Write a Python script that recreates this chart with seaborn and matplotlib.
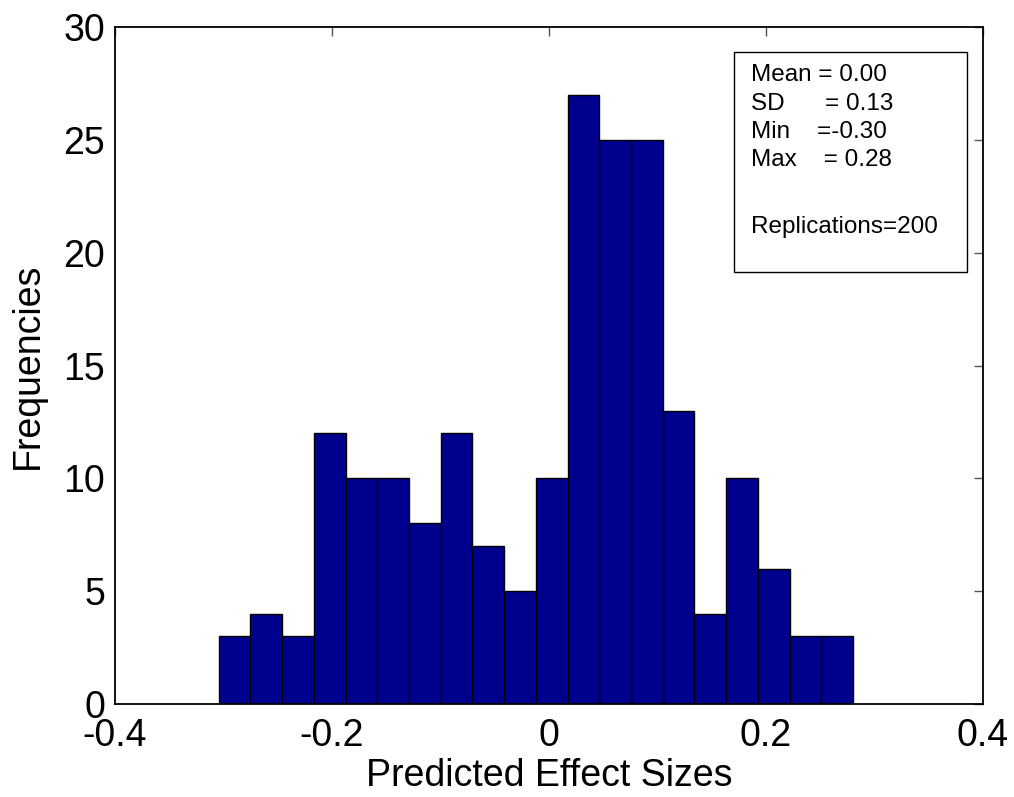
import numpy as np
import pandas as pd
import matplotlib
matplotlib.use("Agg")
import matplotlib.pyplot as plt
from matplotlib.patches import Rectangle
from matplotlib.ticker import FuncFormatter
import seaborn as sns

# histogram of predicted effect sizes (200 replications, 20 bins)
counts = [3, 4, 3, 12, 10, 10, 8, 12, 7, 5, 10, 27, 25, 25, 13, 4, 10, 6, 3, 3]
x_min, x_max = -0.3045, 0.2803
x_ticks = [-0.4, -0.2, 0, 0.2, 0.4]
y_ticks = [0, 5, 10, 15, 20, 25, 30]
stats_lines = ["Mean = 0.00", "SD      = 0.13", "Min    =-0.30", "Max    = 0.28", "Replications=200"]

edges = np.linspace(x_min, x_max, len(counts) + 1)
centers = (edges[:-1] + edges[1:]) / 2
df = pd.DataFrame({"effect": centers, "n": counts})

sns.set_style("white")
plt.rcParams['font.family'] = ['Liberation Sans', 'DejaVu Sans']
plt.rcParams['text.color'] = 'black'
plt.rcParams['axes.labelcolor'] = 'black'
plt.rcParams['xtick.color'] = 'black'
plt.rcParams['ytick.color'] = 'black'

fig = plt.figure(figsize=(10.14, 7.97), dpi=100)
ax = fig.add_axes([0.1134, 0.1167, 0.856, 0.8494])

sns.histplot(data=df, x="effect", weights="n", bins=len(counts), binrange=(x_min, x_max),
             color="#00008F", alpha=1, edgecolor="black", linewidth=1.0, ax=ax)

ax.set_xlim(-0.4, 0.4)
ax.set_ylim(0, 30)
ax.set_xticks(x_ticks)
ax.set_yticks(y_ticks)
ax.xaxis.set_major_formatter(FuncFormatter(lambda v, p: "0" if abs(v) < 1e-9 else f"{v:g}"))
ax.tick_params(direction="in", length=6.5, width=1, top=True, right=True,
               labelsize=27, color="#555555", labelcolor="black")
ax.tick_params(axis="x", pad=10)
ax.tick_params(axis="y", pad=7)
for s in ax.spines.values():
    s.set_visible(True)
    s.set_color("black")
    s.set_linewidth(1.3)

ax.set_xlabel("Predicted Effect Sizes", fontsize=27, labelpad=3)
ax.set_ylabel("Frequencies", fontsize=27, labelpad=13)

# stats box
ax.add_patch(Rectangle((0.7131, 0.638), 0.2685, 0.325, transform=ax.transAxes,
                       facecolor="white", edgecolor="black", linewidth=1, zorder=5))
for line, yy in zip(stats_lines, [0.920, 0.878, 0.8365, 0.7947, 0.696]):
    ax.text(0.7327, yy, line, transform=ax.transAxes, fontsize=17.5,
            va="baseline", ha="left", zorder=6)

fig.savefig("out.png", dpi=100)
